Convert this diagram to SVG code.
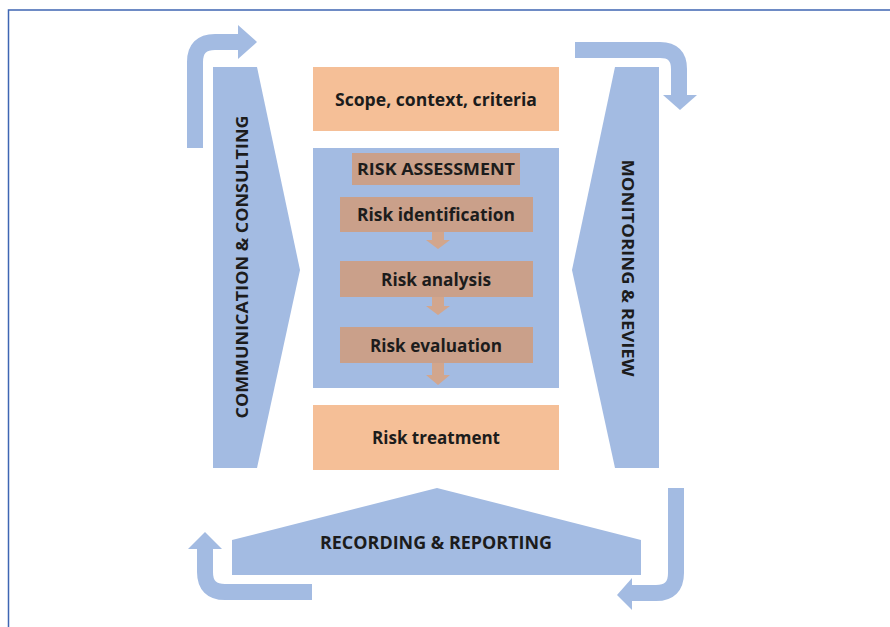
<svg xmlns="http://www.w3.org/2000/svg" width="890" height="627" viewBox="0 0 890 627">
<style>
.bg{fill:#ffffff}
.frame{stroke:#3f66b3;stroke-width:1.5;fill:none}
.blue{fill:#a3bbe2}
.band{fill:none;stroke:#a3bbe2;stroke-width:16}
.peach{fill:#f5bf97}
.tan{fill:#caa08a}
.tanarrow{fill:#d2a68d}
.lbl{font-family:"Open Sans","Liberation Sans",sans-serif;font-weight:700;fill:#1c1c1c;text-anchor:middle;dominant-baseline:central}
</style>
<rect class="bg" x="0" y="0" width="890" height="627"/>
<path class="frame" d="M8.5,627 V10 H890"/>

<g id="communication-consulting">
<polygon class="blue" points="213,67 257,67 300,270 257,468 213,468"/>
<text class="lbl" font-size="16" textLength="303" lengthAdjust="spacingAndGlyphs" transform="translate(242,267) rotate(-90)">COMMUNICATION &amp; CONSULTING</text>
</g>

<g id="monitoring-review">
<polygon class="blue" points="615,67 659,67 659,468 615,468 572,270"/>
<text class="lbl" font-size="16" textLength="217" lengthAdjust="spacingAndGlyphs" transform="translate(628,268) rotate(90)">MONITORING &amp; REVIEW</text>
</g>

<g id="scope">
<rect class="peach" x="313" y="67" width="246" height="64"/>
<text class="lbl" x="436" y="99" font-size="17" textLength="202" lengthAdjust="spacingAndGlyphs">Scope, context, criteria</text>
</g>

<g id="risk-assessment">
<rect class="blue" x="313" y="148" width="246" height="240"/>
<rect class="tan" x="352" y="153" width="168" height="32"/>
<text class="lbl" x="436" y="169" font-size="16" textLength="158" lengthAdjust="spacingAndGlyphs">RISK ASSESSMENT</text>
</g>

<g id="risk-identification">
<rect class="tan" x="340" y="197" width="193" height="35"/>
<text class="lbl" x="436" y="214" font-size="17" textLength="158" lengthAdjust="spacingAndGlyphs">Risk identification</text>
</g>

<g id="risk-analysis">
<rect class="tan" x="340" y="261" width="193" height="36"/>
<text class="lbl" x="436" y="279" font-size="17" textLength="110" lengthAdjust="spacingAndGlyphs">Risk analysis</text>
</g>

<g id="risk-evaluation">
<rect class="tan" x="340" y="327" width="193" height="36"/>
<text class="lbl" x="436" y="345" font-size="17" textLength="132" lengthAdjust="spacingAndGlyphs">Risk evaluation</text>
</g>

<g id="risk-treatment">
<rect class="peach" x="313" y="405" width="246" height="65"/>
<text class="lbl" x="436" y="437" font-size="17" textLength="128" lengthAdjust="spacingAndGlyphs">Risk treatment</text>
</g>

<g id="recording-reporting">
<polygon class="blue" points="232,575 232,540 437,488 641,540 641,575"/>
<text class="lbl" x="436" y="542" font-size="17" textLength="232" lengthAdjust="spacingAndGlyphs">RECORDING &amp; REPORTING</text>
</g>

<g id="connectors">
<polygon class="tanarrow" points="432,232 444,232 444,240 450,240 438,249 426,240 432,240"/>
<polygon class="tanarrow" points="432,297 444,297 444,306 450,306 438,315 426,306 432,306"/>
<polygon class="tanarrow" points="432,363 444,363 444,375 450,375 438,385 426,375 432,375"/>

<path class="band" d="M195,148 V62 Q195,42 215,42 H239"/>
<polygon class="blue" points="238,25 257,42 238,59"/>

<path class="band" d="M575,50 H660 Q679,50 679,69 V96"/>
<polygon class="blue" points="663,95 697,95 680,110"/>

<path class="band" d="M676,488 V573 Q676,593 656,593 H631"/>
<polygon class="blue" points="632,578 617,595 632,610"/>

<path class="band" d="M312,592 H225 Q205,592 205,572 V548"/>
<polygon class="blue" points="188,549 205,532 222,549"/>
</g>
</svg>
